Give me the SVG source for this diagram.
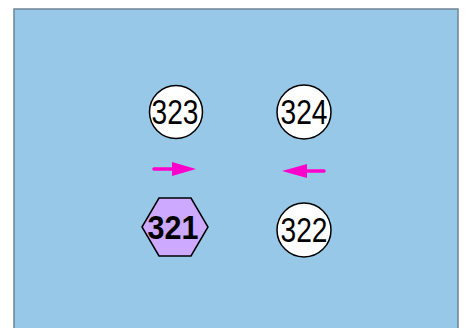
<svg xmlns="http://www.w3.org/2000/svg" width="471" height="328" viewBox="0 0 471 328">
<style>
.bg{fill:#98c8e8;stroke:#6e8497;stroke-width:1.5}
.c{fill:#ffffff;stroke:#000;stroke-width:1.5}
.hex{fill:#cdaaff;stroke:#000;stroke-width:1.5}
.t{font-family:"Liberation Sans",Arial,sans-serif;font-size:35px;text-anchor:middle;fill:#000}
.tb{font-family:"Liberation Sans",Arial,sans-serif;font-size:33px;font-weight:bold;text-anchor:middle;fill:#000}
.arr{stroke:#ff00cc;stroke-width:3.5;stroke-linecap:round;fill:none}
.head{fill:#ff00cc}
</style>
<rect class="bg" x="14" y="9" width="444" height="330"/>
<g id="connectors">
<line class="arr" x1="154" y1="169" x2="174" y2="169"/>
<polygon class="head" points="172,162 196,169 172,176"/>
<line class="arr" x1="324" y1="171" x2="304" y2="171"/>
<polygon class="head" points="307,164 282,171 307,178"/>
</g>
<g id="n323">
<circle class="c" cx="176" cy="112" r="26.5"/>
<text class="t" x="175" y="123.5" textLength="47" lengthAdjust="spacingAndGlyphs">323</text>
</g>
<g id="n324">
<circle class="c" cx="304" cy="112" r="27"/>
<text class="t" x="304" y="123.5" textLength="47" lengthAdjust="spacingAndGlyphs">324</text>
</g>
<g id="n322">
<circle class="c" cx="304" cy="230" r="27"/>
<text class="t" x="304" y="241.5" textLength="47" lengthAdjust="spacingAndGlyphs">322</text>
</g>
<g id="n321">
<polygon class="hex" points="142,227 159,198 191,198 208,227 191,256 159,256"/>
<text class="tb" x="173" y="238.5" textLength="51" lengthAdjust="spacingAndGlyphs">321</text>
</g>
</svg>
